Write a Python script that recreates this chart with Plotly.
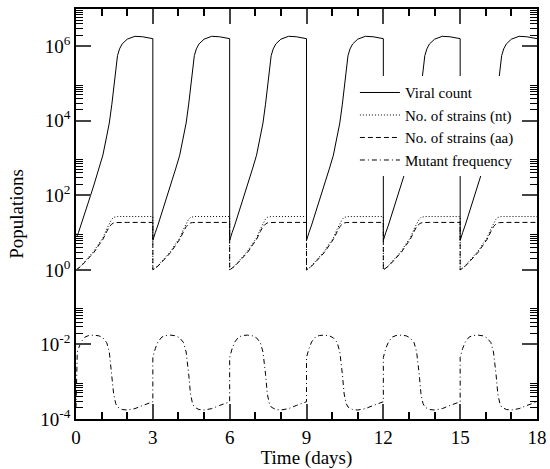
import plotly.graph_objects as go

# one 3-day cycle, sampled at these times (days from the start of the cycle)
cycle_tau = [0.0, 0.05, 0.1, 0.2, 0.35, 0.5, 0.7, 0.9, 1.05, 1.2, 1.3, 1.4, 1.47,
             1.55, 1.62, 1.7, 1.8, 2.0, 2.3, 2.6, 3.0]
cycle_starts = [0, 3, 6, 9, 12, 15]

viral_cycle = [6.2, 8.3, 10.2, 16, 33, 71, 190, 540, 1200, 3900, 8700, 2.8e4, 7.9e4,
               2.6e5, 5.6e5, 8.5e5, 1.15e6, 1.55e6, 1.85e6, 1.8e6, 1.6e6]
strains_nt_cycle = [1.0, 1.05, 1.12, 1.3, 1.7, 2.3, 3.2, 5.2, 7.2, 12.6, 17.8, 23, 25.7,
                    26.9, 27, 27, 27, 27, 27, 27, 27]
strains_aa_cycle = [1.0, 1.05, 1.1, 1.26, 1.62, 2.1, 2.95, 4.7, 6.6, 10.7, 14.5, 17, 18.2,
                    18.6, 18.8, 18.8, 18.8, 18.8, 18.8, 18.8, 18.8]
mutant_cycle = [4.5e-3, 6.3e-3, 7.9e-3, 1.17e-2, 1.58e-2, 1.74e-2, 1.78e-2, 1.7e-2, 1.5e-2,
                1.12e-2, 6.3e-3, 1.6e-3, 4.7e-4, 2.6e-4, 2.1e-4, 1.95e-4, 1.8e-4, 1.74e-4,
                1.9e-4, 2.3e-4, 2.9e-4]

# the very first point (t = 0) differs from later cycles
viral_start = 9.5
mutant_start = 2e-4

y_tickvals = [1e-4, 1e-2, 1, 1e2, 1e4, 1e6]
y_ticktext = ["10<sup>-4</sup>", "10<sup>-2</sup>", "10<sup>0</sup>",
              "10<sup>2</sup>", "10<sup>4</sup>", "10<sup>6</sup>"]
x_tickvals = [0, 3, 6, 9, 12, 15, 18]


def build(cycle_vals, first=None):
    t, v = [], []
    for s in cycle_starts:
        t += [s + tau for tau in cycle_tau]
        v += list(cycle_vals)
    if first is not None:
        v[0] = first
    return t, v


FONT = "Liberation Serif, Times New Roman, serif"
series = [
    ("Viral count", viral_cycle, viral_start, "solid"),
    ("No. of strains (nt)", strains_nt_cycle, None, "1px,2px"),
    ("No. of strains (aa)", strains_aa_cycle, None, "5px,3px"),
    ("Mutant frequency", mutant_cycle, mutant_start, "5px,3px,1px,3px"),
]

fig = go.Figure()
for name, vals, first, dash in series:
    t, v = build(vals, first)
    fig.add_trace(go.Scatter(x=t, y=v, name=name, mode="lines",
                             line=dict(color="black", width=1, dash=dash)))

minor_y = [k * 10.0 ** n for n in (-4, -2, 0, 2, 4, 6) for k in range(2, 10)]

fig.update_xaxes(range=[0, 18], tickvals=x_tickvals, ticks="inside", ticklen=15,
                 tickwidth=1.5, showline=True, linewidth=1.5, linecolor="black",
                 mirror="ticks", showgrid=False, zeroline=False,
                 tickfont=dict(size=19, color="black"),
                 minor=dict(dtick=1, ticks="inside", ticklen=7, tickwidth=1.5,
                            tickcolor="black", showgrid=False),
                 title=dict(text="Time (days)", font=dict(size=19, color="black"), standoff=4))
fig.update_yaxes(type="log", range=[-4, 7], tickvals=y_tickvals, ticktext=y_ticktext,
                 ticks="inside", ticklen=15, tickwidth=1.5, showline=True, linewidth=1.5,
                 linecolor="black", mirror="ticks", showgrid=False, zeroline=False,
                 tickfont=dict(size=19, color="black"),
                 minor=dict(tickmode="array", tickvals=minor_y, ticks="inside", ticklen=7,
                            tickwidth=1.2, tickcolor="black", showgrid=False),
                 title=dict(text="Populations", font=dict(size=19, color="black"), standoff=12))

fig.update_layout(
    width=550, height=469,
    margin=dict(l=76, r=13, t=9, b=50, autoexpand=False),
    plot_bgcolor="white", paper_bgcolor="white",
    font=dict(family=FONT, color="black"),
    showlegend=True,
    legend=dict(x=0.605, y=0.836, xanchor="left", yanchor="top", bgcolor="white",
                font=dict(size=15, color="black"), itemwidth=40, tracegroupgap=0),
)

fig.write_html("out.html", config=dict(displayModeBar=False, displaylogo=False),
               post_script="document.body.style.margin='0';")
